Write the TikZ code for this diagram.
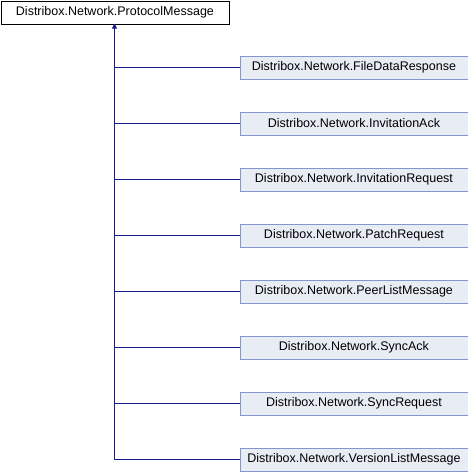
\documentclass[tikz,border=0pt]{standalone}
\usepackage{fontspec}
\setmainfont{Liberation Sans}
\usetikzlibrary{arrows.meta}
\definecolor{edgeblue}{RGB}{25,25,140}
\definecolor{childfill}{RGB}{232,236,245}
\definecolor{childborder}{RGB}{130,152,205}
\begin{document}
\begin{tikzpicture}[x=1pt,y=-1pt,
  basebox/.style={draw=black,fill=white,minimum width=228pt,minimum height=23pt,inner sep=0pt,font=\fontsize{12.5}{14}\selectfont,anchor=north west,line width=0.9pt},
  childbox/.style={draw=childborder,fill=childfill,minimum width=228pt,minimum height=23pt,inner sep=0pt,font=\fontsize{12.5}{14}\selectfont,anchor=west,line width=0.9pt},
  conn/.style={draw=edgeblue,line width=1pt}]
\useasboundingbox (0,0) rectangle (468,472);
\node[basebox] (base) at (0.5,0.5) {Distribox.Network.ProtocolMessage};
\coordinate (trunk) at (114.5,459.5);
\draw[conn,-{Triangle[width=5pt,length=5pt]}] (trunk) -- (114.5,23.5);
\foreach \name/\txt/\y in {c1/FileDataResponse/67.5, c2/InvitationAck/123.5, c3/InvitationRequest/179.5, c4/PatchRequest/235.5, c5/PeerListMessage/291.5, c6/SyncAck/347.5, c7/SyncRequest/403.5, c8/VersionListMessage/459.5}{
  \node[childbox] (\name) at (239.5,\y) {Distribox.Network.\txt};
  \coordinate (j\name) at (114.5,\y);
  \draw[conn] (j\name) -- (\name.west);
}
\end{tikzpicture}
\end{document}
